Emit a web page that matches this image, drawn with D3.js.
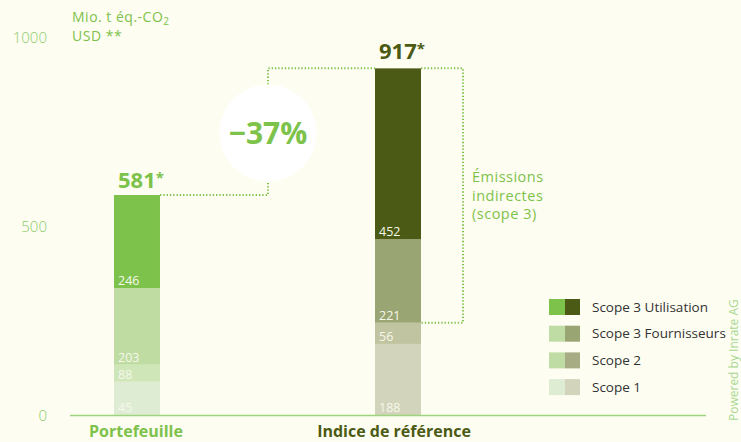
<!DOCTYPE html>
<html>
<head>
<meta charset="utf-8">
<script src="https://cdn.jsdelivr.net/npm/d3@7"></script>
<style>
  body { margin: 0; background: #fdfdf1; }
  svg { display: block; font-family: "Open Sans", sans-serif; }
</style>
</head>
<body>
<div id="chart"></div>
<script>
// data
var categories = ["Portefeuille", "Indice de référence"];
var scopes = ["Scope 1", "Scope 2", "Scope 3 Fournisseurs", "Scope 3 Utilisation"];
// segment heights as drawn, bottom to top
var portfolioValues = [88, 45, 203, 246];
var benchmarkValues = [188, 56, 221, 452];
// printed labels, bottom to top
var portfolioLabels = ["45", "88", "203", "246"];
var benchmarkLabels = ["188", "56", "221", "452"];
var totals = ["581", "917"];
var yTicks = [0, 500, 1000];
var reduction = "\u221237%";

var portfolioColors = ["#dfecd4", "#cfe6b9", "#bfdda3", "#7dc24b"];
var benchmarkColors = ["#d2d4bc", "#c0c4a0", "#9aa574", "#4b5a14"];
var legendLeft = ["#dfecd4", "#bfdca4", "#bfdca4", "#7dc24b"];
var legendRight = ["#d2d4bc", "#a8ac84", "#9aa574", "#4b5a14"];

var width = 741, height = 442;
var green = "#7dc24b", olive = "#4b5a14", tickGreen = "#8ccc6a";

var svg = d3.select("#chart").append("svg")
  .attr("width", width).attr("height", height);

svg.append("rect").attr("width", width).attr("height", height).attr("fill", "#fdfdf1");

var y = d3.scaleLinear().domain([0, 1000]).range([415, 37]);
var x = d3.scaleBand().domain(categories).range([114, 421]).paddingInner(0.8238).paddingOuter(0);

// y ticks (no axis line)
var yAxis = d3.axisLeft(y).tickValues(yTicks).tickFormat(d3.format("d")).tickSize(0).tickPadding(0);
var yg = svg.append("g").attr("transform", "translate(47,0)").call(yAxis);
yg.select(".domain").remove();
yg.selectAll("text").attr("fill", tickGreen).attr("font-size", 15)
  .attr("font-family", "'Open Sans', sans-serif").attr("font-weight", 300)
  .attr("dy", "0.35em");

// unit label
svg.append("text").attr("x", 72).attr("y", 22).attr("fill", green).attr("font-size", 14)
  .attr("letter-spacing", 0.5)
  .html('Mio. t éq.-CO<tspan font-size="10" dy="3">2</tspan>');
svg.append("text").attr("x", 72).attr("y", 41).attr("fill", green).attr("font-size", 14)
  .attr("letter-spacing", 0.5).text("USD **");

// bars
var series = [
  { cat: categories[0], values: portfolioValues, labels: portfolioLabels, colors: portfolioColors },
  { cat: categories[1], values: benchmarkValues, labels: benchmarkLabels, colors: benchmarkColors }
];

series.forEach(function(s) {
  var stacked = [];
  var acc = 0;
  s.values.forEach(function(v, i) {
    stacked.push({ y0: acc, y1: acc + v, label: s.labels[i], color: s.colors[i] });
    acc += v;
  });
  var g = svg.append("g");
  g.selectAll("rect").data(stacked).enter().append("rect")
    .attr("x", x(s.cat))
    .attr("width", x.bandwidth())
    .attr("y", d => y(d.y1))
    .attr("height", d => y(d.y0) - y(d.y1))
    .attr("fill", d => d.color);
  g.selectAll("text").data(stacked).enter().append("text")
    .attr("x", x(s.cat) + 4)
    .attr("y", d => y(d.y0) - 3)
    .attr("fill", "#f6f8ea")
    .attr("font-size", 12.5)
    .text(d => d.label);
  s.top = acc;
});

// baseline
svg.append("line").attr("x1", 70).attr("x2", 706).attr("y1", y(0) + 0.5).attr("y2", y(0) + 0.5)
  .attr("stroke", "#9fd47f").attr("stroke-width", 1.5);

// totals
svg.append("text").attr("x", x(categories[0]) + 4).attr("y", y(series[0].top) - 7)
  .attr("fill", green).attr("font-size", 22).attr("font-weight", 700)
  .html(totals[0] + '<tspan font-size="15" dy="-5">*</tspan>');
svg.append("text").attr("x", x(categories[1]) + 4).attr("y", y(series[1].top) - 9)
  .attr("fill", olive).attr("font-size", 22).attr("font-weight", 700)
  .html(totals[1] + '<tspan font-size="15" dy="-5">*</tspan>');

// dotted connectors
var dot = { stroke: green, "stroke-width": 2, "stroke-dasharray": "1.3,2" };
function dotted(pts) {
  var p = svg.append("path").attr("d", d3.line()(pts)).attr("fill", "none");
  Object.keys(dot).forEach(k => p.attr(k, dot[k]));
}
var cx = 268, cy = 133, r = 48.5;
var pTop = y(series[0].top), bTop = y(series[1].top);
var pRight = x(categories[0]) + x.bandwidth();
var bLeft = x(categories[1]), bRight = bLeft + x.bandwidth();
dotted([[pRight, pTop], [cx, pTop], [cx, cy + r]]);
dotted([[cx, cy - r], [cx, bTop], [bLeft, bTop]]);
var scope3Bottom = y(benchmarkValues[0] + benchmarkValues[1]);
dotted([[bRight, bTop], [463, bTop], [463, scope3Bottom], [bRight, scope3Bottom]]);

// reduction circle
svg.append("circle").attr("cx", cx).attr("cy", cy).attr("r", r).attr("fill", "#ffffff");
svg.append("text").attr("x", cx).attr("y", cy + 11).attr("text-anchor", "middle")
  .attr("fill", green).attr("font-size", 30).attr("font-weight", 700).text(reduction);

// annotation
["Émissions", "indirectes", "(scope 3)"].forEach(function(t, i) {
  svg.append("text").attr("x", 472).attr("y", 182 + i * 18.5)
    .attr("fill", green).attr("font-size", 14.5).attr("letter-spacing", 0.5).text(t);
});

// category labels
svg.append("text").attr("x", 136).attr("y", 437).attr("text-anchor", "middle")
  .attr("fill", green).attr("font-size", 16).attr("font-weight", 700).text(categories[0]);
svg.append("text").attr("x", 394).attr("y", 437).attr("text-anchor", "middle")
  .attr("fill", olive).attr("font-size", 16).attr("font-weight", 700).text(categories[1]);

// legend
var legendOrder = [3, 2, 1, 0];
var legendLabels = ["Scope 3 Utilisation", "Scope 3 Fournisseurs", "Scope 2", "Scope 1"];
var lg = svg.append("g");
legendOrder.forEach(function(idx, i) {
  var ly = 299 + i * 26.7;
  lg.append("rect").attr("x", 549).attr("y", ly).attr("width", 16).attr("height", 16).attr("fill", legendLeft[idx]);
  lg.append("rect").attr("x", 565).attr("y", ly).attr("width", 15).attr("height", 16).attr("fill", legendRight[idx]);
  lg.append("text").attr("x", 592).attr("y", ly + 12.5).attr("fill", "#333333")
    .attr("font-size", 13.5).text(legendLabels[i]);
});

// powered by
svg.append("text").attr("transform", "translate(738,421) rotate(-90)")
  .attr("fill", "#a8d890").attr("font-size", 12).text("Powered by Inrate AG");
</script>
</body>
</html>
